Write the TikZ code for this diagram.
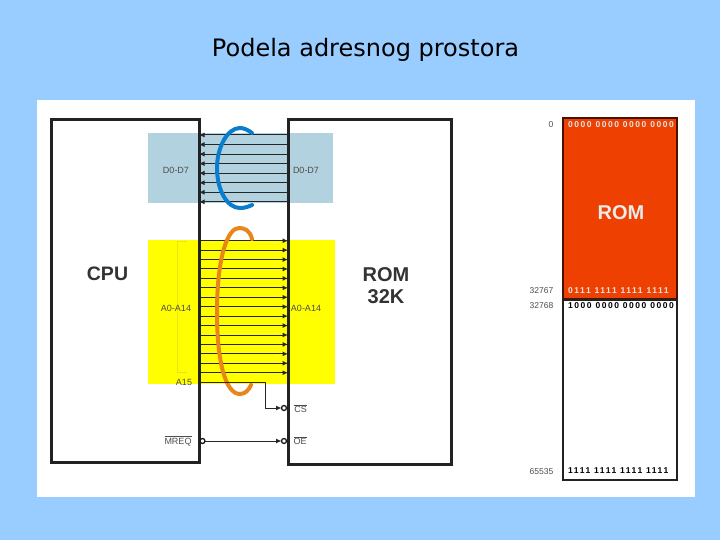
\documentclass[tikz,border=0pt]{standalone}
\usepackage{fontspec}
\setmainfont{Liberation Sans}
\newfontfamily\titlefont{DejaVu Sans}
\newfontfamily\bitfont[LetterSpace=18]{Liberation Sans Bold}
\usetikzlibrary{calc,arrows.meta}
\definecolor{slidebg}{RGB}{153,204,255}
\definecolor{busblue}{RGB}{179,210,224}
\definecolor{busyellow}{RGB}{255,255,0}
\definecolor{loopblue}{RGB}{10,125,205}
\definecolor{looporange}{RGB}{232,134,26}
\definecolor{romred}{RGB}{238,64,0}
\definecolor{inkdark}{RGB}{34,34,34}
\tikzset{
  plain/.style={rectangle, inner sep=0pt, outer sep=0pt},
  chip/.style={plain, draw=inkdark, line width=3pt},
  chiptext/.style={inner sep=0pt, font=\fontsize{20}{22}\selectfont\bfseries, text=black!80, align=center},
  pin/.style={inner sep=0pt, font=\fontsize{9}{10}\selectfont, text=black!70},
  addr/.style={pin, font=\fontsize{8.5}{10}\selectfont, anchor=east},
  bits/.style={inner sep=0pt, font=\fontsize{8.5}{10}\bitfont, anchor=west},
  bus/.style={line width=1pt, black!85},
  busto/.style={bus, -{Latex[length=5.5pt,width=5pt]}},
  loopline/.style={line width=4pt, line cap=round},
  dot/.style={circle, draw=black!90, fill=white, line width=1.3pt, minimum size=5pt, inner sep=0pt, outer sep=0pt},
}
\begin{document}
\begin{tikzpicture}[x=1pt,y=-1pt]
\useasboundingbox (0,0) rectangle (720,540);
\fill[slidebg] (0,0) rectangle (720,540);
\node[inner sep=0pt, font=\fontsize{24}{28}\titlefont] (title) at (365.5,50) {Podela adresnog prostora};
\node[plain, fill=white, minimum width=658pt, minimum height=397pt] (panel) at (366,298.5) {};
% buses behind the chips
\node[plain, fill=busblue, minimum width=185pt, minimum height=70pt] (databus) at (240.5,168) {};
\node[plain, fill=busyellow, minimum width=187pt, minimum height=144pt] (addrbus) at (241.5,312) {};
\draw[yellow!93!black, line width=0.4pt] (187,241) -- (177,241) -- (177,372) -- (187,372);
\node[chip, minimum width=148pt, minimum height=342pt] (cpu) at (125,291) {};
\node[chip, minimum width=163pt, minimum height=344pt] (rom) at (369.5,292) {};
\node[chiptext, font=\fontsize{19.5}{22}\selectfont\bfseries] (cputext) at (107.5,274) {CPU};
\node[chiptext] (romtext) at (386,286) {ROM\\32K};
% data lines
\foreach \i in {0,...,7}{
  \coordinate (dl\i) at ($(cpu.east |- 0,135)+(0,9.55*\i)$);
  \coordinate (dr\i) at ($(rom.west |- 0,135)+(0,9.55*\i)$);
  \draw[busto] (dr\i) -- (dl\i);
}
% address lines
\foreach \i in {0,...,14}{
  \coordinate (al\i) at ($(cpu.east |- 0,240.7)+(0,9.43*\i)$);
  \coordinate (ar\i) at ($(rom.west |- 0,240.7)+(0,9.43*\i)$);
  \draw[busto] (al\i) -- (ar\i);
}
\node[pin] (dlab) at (176,170) {D0-D7};
\node[pin] (drab) at (306,170) {D0-D7};
\node[pin] (alab) at (176,308) {A0-A14};
\node[pin] (arab) at (306,308) {A0-A14};
\node[pin] (a15lab) at (184,382) {A15};
% the two loops
\draw[loopline, loopblue] (252,133) .. controls (248,130) and (244,128) .. (240,128)
  .. controls (227,128) and (217,148) .. (217,168)
  .. controls (217,190) and (227,208) .. (240,208)
  .. controls (244,208) and (248,207) .. (252,205);
\draw[loopline, looporange] (252,239) .. controls (250,230) and (244,228) .. (239,228)
  .. controls (228,228) and (217,255) .. (217,313)
  .. controls (217,360) and (225,394) .. (240,394)
  .. controls (245,394) and (249,390) .. (251,385);
% control lines
\node[dot] (csdot) at (284,408) {};
\node[dot] (oedot) at (284,441) {};
\node[dot] (mreqdot) at (202.5,441) {};
\coordinate (a15) at (cpu.east |- 0,382);
\coordinate (a15bend) at (265,382);
\draw[busto] (a15) -- (a15bend) |- (csdot);
\draw[busto] (mreqdot) -- (oedot);
\node[pin] (cslab) at (300.5,408.5) {$\overline{\hbox{CS}}$};
\node[pin] (oelab) at (300,440.5) {$\overline{\hbox{OE}}$};
\node[pin] (mreqlab) at (178,441) {$\overline{\hbox{MREQ}}$};
% memory map
\node[plain, fill=romred, draw=black!70!romred, line width=2pt, minimum width=114.5pt, minimum height=181pt] (romarea) at (620,208.5) {};
\node[plain, draw=inkdark, line width=2pt, minimum width=114.5pt, minimum height=180pt] (freearea) at (620,389.5) {};
\node[inner sep=0pt, text=white!92!black, font=\fontsize{20}{22}\selectfont\bfseries] (romlab) at (621,213) {ROM};
\node[bits, text=white!90!black] (first) at (568,125) {0000 0000 0000 0000};
\node[bits, text=white!90!black] (lastrom) at (568,291) {0111 1111 1111 1111};
\node[bits] (firstfree) at (568,306) {1000 0000 0000 0000};
\node[bits] (lastfree) at (568,471) {1111 1111 1111 1111};
\node[addr] (n0) at (553.5,125) {0};
\node[addr] (n1) at (553.5,290.5) {32767};
\node[addr] (n2) at (553.5,306) {32768};
\node[addr] (n3) at (553.5,471.5) {65535};
\end{tikzpicture}
\end{document}
